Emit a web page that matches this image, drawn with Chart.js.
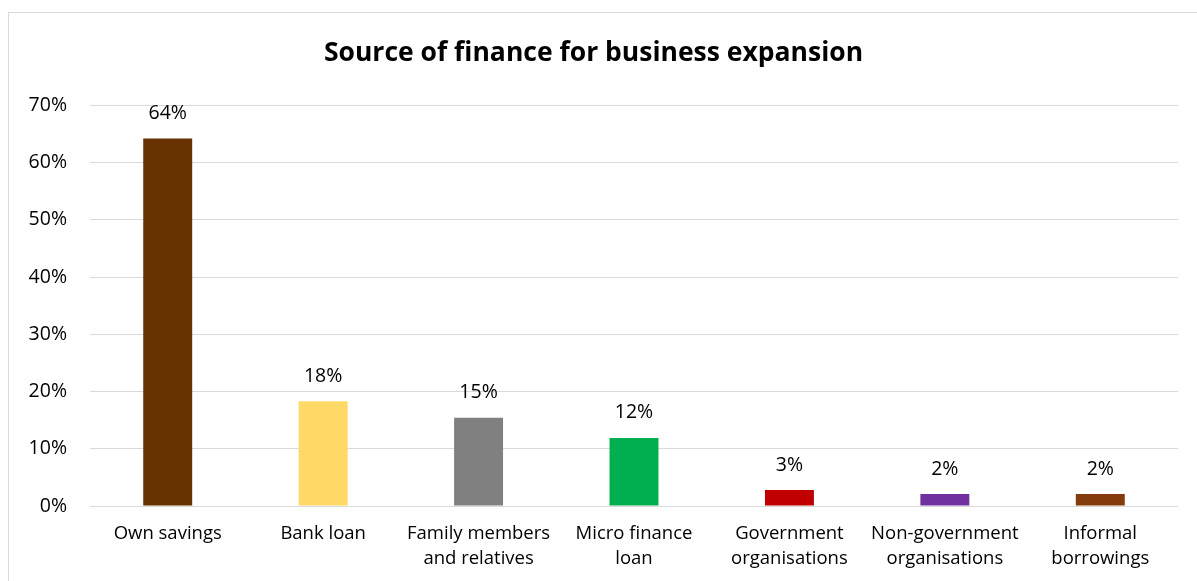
<!DOCTYPE html>
<html>
<head>
<meta charset="utf-8">
<script src="https://cdn.jsdelivr.net/npm/chart.js@4.4.1/dist/chart.umd.min.js"></script>
<style>
  html, body { margin: 0; padding: 0; background: #fff; overflow: hidden; }
  #frame {
    position: absolute; left: 8px; top: 12px;
    width: 1200px; height: 580px;
    border: 1px solid #d9d9d9; box-sizing: border-box;
  }
  #wrap { position: absolute; left: 0; top: 0; width: 1189px; height: 569px; }
</style>
</head>
<body>
<div id="frame"><div id="wrap"><canvas id="financeChart"></canvas></div></div>
<script>
// 数据
const categories = [
    'Own savings', 'Bank loan', ['Family members', 'and relatives'], ['Micro finance', 'loan'],
    ['Government', 'organisations'], ['Non-government', 'organisations'], ['Informal', 'borrowings']
];
const shares = [0.642, 0.183, 0.154, 0.119, 0.028, 0.021, 0.021];
const barColors = ['#663300', '#FFD966', '#808080', '#00B050', '#C00000', '#7030A0', '#843C0C'];
const yTicks = [0, 0.1, 0.2, 0.3, 0.4, 0.5, 0.6, 0.7];

const FONT = '"Open Sans", Lato, sans-serif';

// 柱顶百分比标签
const valueLabels = {
    id: 'valueLabels',
    afterDatasetsDraw(chart) {
        const { ctx } = chart;
        const meta = chart.getDatasetMeta(0);
        ctx.save();
        ctx.fillStyle = '#000';
        ctx.font = '19.5px ' + FONT;
        ctx.textAlign = 'center';
        ctx.textBaseline = 'middle';
        meta.data.forEach((bar, i) => {
            const txt = Math.round(shares[i] * 100) + '%';
            ctx.fillText(txt, bar.x, bar.y - 25);
        });
        ctx.restore();
    }
};

new Chart(document.getElementById('financeChart'), {
    type: 'bar',
    data: {
        labels: categories,
        datasets: [{
            data: shares,
            backgroundColor: barColors,
            categoryPercentage: 1,
            barPercentage: 0.315
        }]
    },
    options: {
        responsive: true,
        maintainAspectRatio: false,
        animation: false,
        layout: { padding: { left: 0, right: 20, top: 0, bottom: 0 } },
        plugins: {
            legend: { display: false },
            tooltip: { enabled: false },
            title: {
                display: true,
                text: 'Source of finance for business expansion',
                color: '#000',
                font: { family: FONT, size: 26.5, weight: 'bold' },
                padding: { top: 25, bottom: 35.5 }
            }
        },
        scales: {
            x: {
                grid: { display: false, drawTicks: false },
                border: { display: false },
                ticks: {
                    color: '#000',
                    font: { family: FONT, size: 18.5, lineHeight: 1.35 },
                    padding: 15,
                    maxRotation: 0,
                    autoSkip: false
                },
                afterFit: (scale) => { scale.height = 76; }
            },
            y: {
                min: 0,
                max: 0.7,
                afterBuildTicks: (scale) => { scale.ticks = yTicks.map(v => ({ value: v })); },
                afterFit: (scale) => { scale.width = 81; },
                grid: { color: '#d9d9d9', lineWidth: 1, drawTicks: false },
                border: { display: false },
                ticks: {
                    color: '#000',
                    font: { family: FONT, size: 19.5 },
                    padding: 23,
                    callback: (v) => Math.round(v * 100) + '%'
                }
            }
        }
    },
    plugins: [valueLabels]
});
</script>
</body>
</html>
